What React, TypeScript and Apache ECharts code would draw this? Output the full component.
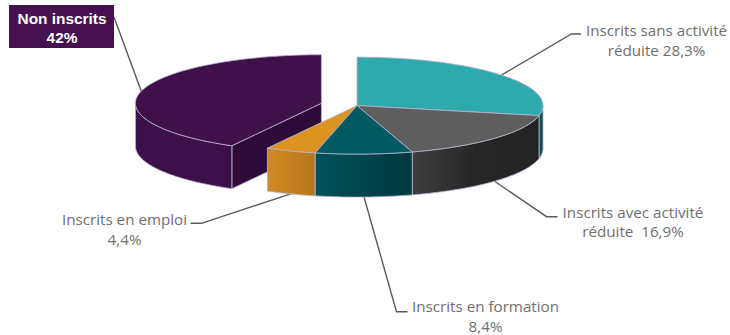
import React, { useEffect, useRef } from "react";
import * as echarts from "echarts";

// Shares of each group, clockwise from twelve o'clock.
const groupIds = ["sans", "avec", "formation", "emploi", "non"];
const shares = [28.3, 16.9, 8.4, 4.4, 42];
const labelFirstLines = ["Inscrits sans activité", "Inscrits avec activité", "Inscrits en formation", "Inscrits en emploi", "Non inscrits"];
const labelSecondPrefixes = ["réduite ", "réduite  ", "", "", ""];

// Painting order of the slices, back to front.
const paintRank = [1, 2, 4, 3, 0];
const explodedBy = [0, 0, 0, 0, 36.7];

const topColors = ["#2ea9ac", "#5e5e5e", "#005a62", "#dd9322", "#40104b"];
const wallFrom = ["#0f5558", "#3f3d3d", "#00525a", "#d08b21", "#3b0f47"];
const wallMid = ["#0e4e51", "#262626", "#00444c", "#c5801f", "#3e104a"];
const wallTo = ["#0c4649", "#232323", "#00373f", "#b5751e", "#3d0f49"];
const cutColors = ["#0f5558", "#333333", "#003a42", "#a86c1c", "#2d0a37"];
const EDGE = "#b9b5d6";
const LEADER = "#5a5a5a";
const TEXT = "#6f6f6f";

const CX = 357;
const CY = 105.6;
const RX = 186;
const RY = 48.5;
const DEPTH = 43;
const TAU = Math.PI * 2;

// Leader knee and the end of its short horizontal run, per slice.
const leaderBends = [
  [[571.5, 34], [581, 34]],
  [[546.5, 216.7], [557.5, 216.7]],
  [[396.5, 311.7], [407.5, 311.7]],
  [[201.5, 223.3], [190.5, 223.3]],
  [[114, 17]],
];
// Centre of each text block, first and second line baseline middles.
const labelCentres = [
  [656.5, 30, 49.5],
  [633, 211.5, 231],
  [485.5, 306, 325.5],
  [124.5, 219, 239],
  [62, 18.5, 37],
];

const shareText = (v: number) => String(v).replace(".", ",") + "%";

const startShares = shares.map((_, i) => shares.slice(0, i).reduce((a, b) => a + b, 0));
const toAngle = (share: number) => echarts.number.linearMap(share, [0, 100], [0, TAU]);

function rim(ox: number, oy: number, a: number): [number, number] {
  return [ox + RX * Math.sin(a), oy - RY * Math.cos(a)];
}

function arcPoints(ox: number, oy: number, from: number, to: number): [number, number][] {
  const steps = Math.max(2, Math.ceil(Math.abs(to - from) / (Math.PI / 180)));
  const pts: [number, number][] = [];
  for (let i = 0; i <= steps; i++) pts.push(rim(ox, oy, from + ((to - from) * i) / steps));
  return pts;
}

function renderSlice(_params: any, api: any) {
  const i = api.value(0);
  const a0 = toAngle(api.value(1));
  const a1 = toAngle(api.value(1) + api.value(2));
  const mid = (a0 + a1) / 2;
  const off = explodedBy[i];
  const ox = CX + off * Math.sin(mid);
  const oy = CY - (off * Math.cos(mid) * RY) / RX;
  const z = paintRank[i] * 10 + 10;
  const edgeStyle = { stroke: EDGE, lineWidth: 0.8, lineJoin: "round" };
  const children: any[] = [];

  // Leader from the rim at the middle of the slice out to its label.
  const front = mid > Math.PI / 2 && mid < Math.PI * 1.5;
  const anchor = rim(ox, oy + (front ? DEPTH : 0), mid);
  children.push({
    type: "polyline",
    z2: 1,
    shape: { points: [anchor, ...leaderBends[i]].reverse() },
    style: { stroke: LEADER, lineWidth: 1.4, fill: "none" },
  });

  // Straight cut wall, seen only when it faces the viewer.
  const startNormal = a0 - Math.PI / 2;
  if (startNormal > Math.PI / 2 && startNormal < Math.PI * 1.5) {
    const p = rim(ox, oy, a0);
    children.push({
      type: "polygon",
      z2: z,
      shape: { points: [p, [ox, oy], [ox, oy + DEPTH], [p[0], p[1] + DEPTH]] },
      style: { fill: cutColors[i], ...edgeStyle },
    });
  }

  // Outer wall on the front half of the ellipse.
  const w0 = Math.max(a0, Math.PI / 2);
  const w1 = Math.min(a1, Math.PI * 1.5);
  if (w1 > w0) {
    const upper = arcPoints(ox, oy, w0, w1);
    const lower = arcPoints(ox, oy + DEPTH, w1, w0);
    const leftToRight = Math.sin(w1) < Math.sin(w0);
    children.push({
      type: "polygon",
      z2: z + 1,
      shape: { points: [...upper, ...lower] },
      style: {
        fill: new echarts.graphic.LinearGradient(0, 0, 1, 0, [
          { offset: 0, color: leftToRight ? wallFrom[i] : wallTo[i] },
          { offset: 0.5, color: wallMid[i] },
          { offset: 1, color: leftToRight ? wallTo[i] : wallFrom[i] },
        ]),
        ...edgeStyle,
      },
    });
  }

  // Top face of the slice.
  children.push({
    type: "polygon",
    z2: z + 2,
    shape: { points: [[ox, oy], ...arcPoints(ox, oy, a0, a1)] },
    style: { fill: topColors[i], ...edgeStyle },
  });

  return { type: "group", children };
}

export default function App() {
  const ref = useRef<HTMLDivElement>(null);

  useEffect(() => {
    const chart = echarts.init(ref.current!, undefined, { renderer: "svg" });
    const textElements: any[] = [];
    shares.forEach((v, i) => {
      const [x, y1, y2] = labelCentres[i];
      const boxed = groupIds[i] === "non";
      const style = {
        fontFamily: boxed ? "Liberation Sans" : "Open Sans",
        fontSize: boxed ? 15.4 : 15.2,
        fontWeight: boxed ? "bold" : "normal",
        fill: boxed ? "#ffffff" : TEXT,
        align: "center",
        verticalAlign: "middle",
      };
      textElements.push(
        { type: "text", x, y: y1, z: 6, style: { ...style, text: labelFirstLines[i] } },
        { type: "text", x, y: y2, z: 6, style: { ...style, text: labelSecondPrefixes[i] + shareText(v) } }
      );
    });

    chart.setOption({
      animation: false,
      backgroundColor: "#ffffff",
      series: [
        {
          type: "custom",
          coordinateSystem: "none",
          silent: true,
          z: 2,
          renderItem: renderSlice,
          data: shares.map((v, i) => [i, startShares[i], v]),
        },
      ],
      graphic: [
        {
          type: "rect",
          z: 5,
          shape: { x: 9, y: 5, width: 105, height: 43 },
          style: { fill: "#45124f" },
        },
        ...textElements,
      ],
    });
    return () => chart.dispose();
  }, []);

  return <div ref={ref} style={{ position: "absolute", left: 0, top: 0, width: 730, height: 335 }} />;
}
